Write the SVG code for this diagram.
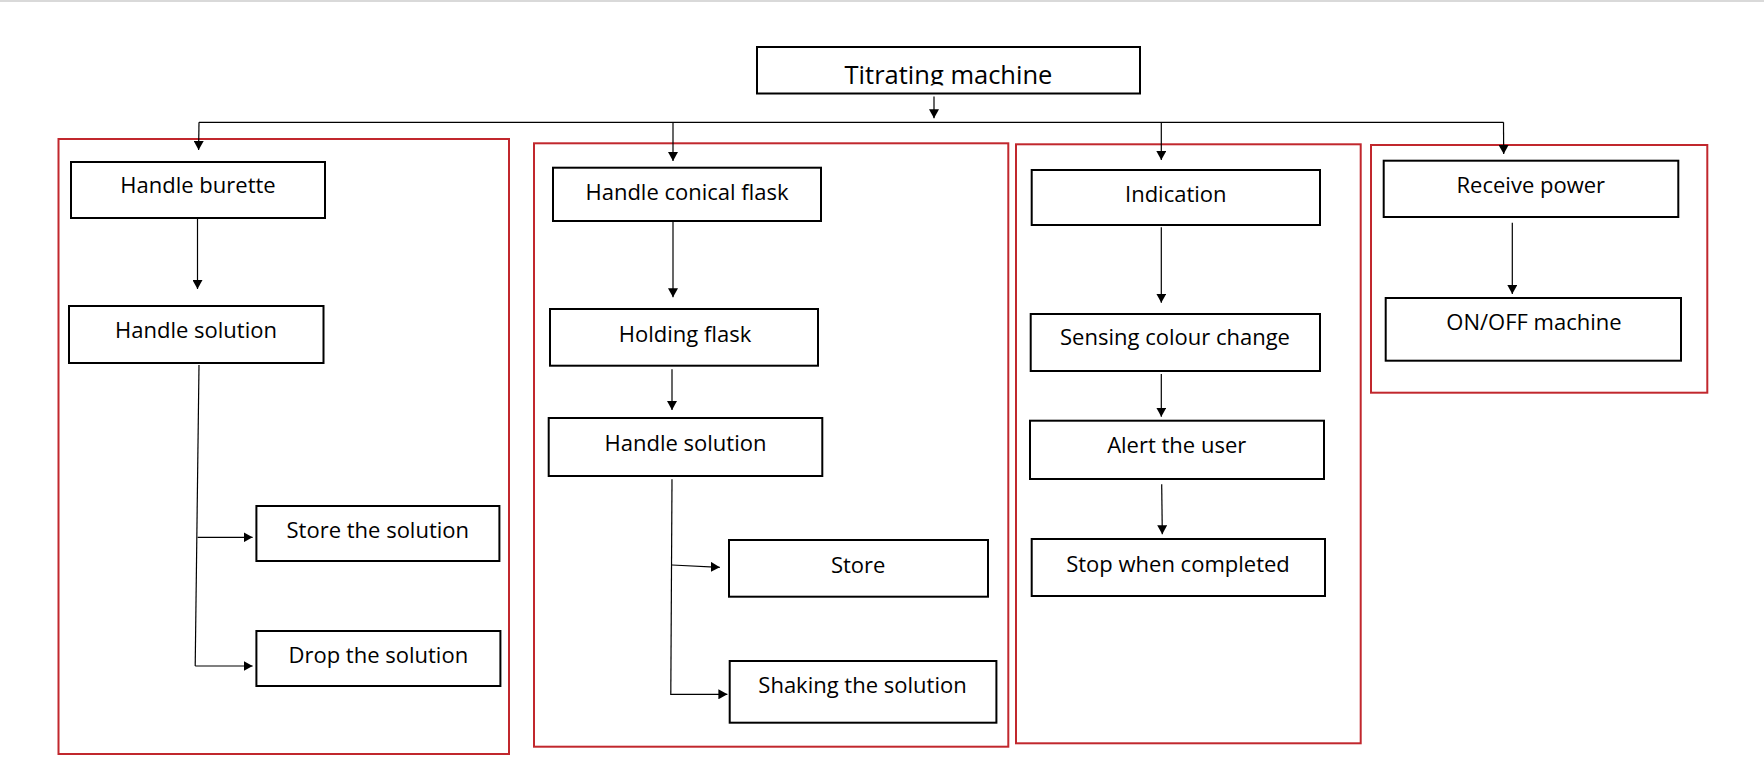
<svg xmlns="http://www.w3.org/2000/svg" width="1764" height="780" viewBox="0 0 1764 780">
  <style>
    .node rect { fill: #ffffff; stroke: #000000; stroke-width: 2; }
    .node text { font-family: "Open Sans", "Noto Sans", "Liberation Sans", sans-serif; font-size: 22px; fill: #000000; text-anchor: middle; }
    .group { fill: none; stroke: #c1272d; stroke-width: 2; }
    .conn { fill: none; stroke: #000000; stroke-width: 1.2; }
    .arrow { marker-end: url(#ah); }
  </style>
  <defs>
    <marker id="ah" viewBox="0 0 9 10" refX="9" refY="5" markerWidth="9" markerHeight="10" markerUnits="userSpaceOnUse" orient="auto">
      <path d="M0,0 L9,5 L0,10 z" fill="#000000"/>
    </marker>
    <clipPath id="titleClip">
      <rect x="757" y="47" width="383" height="38.5"/>
    </clipPath>
  </defs>
  <rect x="0" y="0" width="1764" height="800" fill="#ffffff"/>
  <rect x="0" y="0" width="1764" height="2" fill="#d9d9d9"/>

  <g id="groups">
    <rect class="group" x="58.5" y="139" width="450.5" height="615"/>
    <rect class="group" x="534" y="143.3" width="474.3" height="603.4"/>
    <rect class="group" x="1016" y="144.3" width="344.7" height="599"/>
    <rect class="group" x="1371" y="145" width="336.3" height="247.7"/>
  </g>

  <g id="connectors">
    <line class="conn arrow" x1="934" y1="96.5" x2="934" y2="118.3"/>
    <line class="conn" x1="199" y1="122.3" x2="1503.5" y2="122.3"/>
    <line class="conn arrow" x1="199" y1="122.3" x2="198.6" y2="150"/>
    <line class="conn arrow" x1="673" y1="122.3" x2="673" y2="161"/>
    <line class="conn arrow" x1="1161.3" y1="122.3" x2="1161.3" y2="160"/>
    <line class="conn arrow" x1="1503.5" y1="122.3" x2="1503.7" y2="154"/>

    <line class="conn arrow" x1="197.5" y1="219" x2="197.5" y2="289"/>
    <line class="conn" x1="199" y1="365" x2="195.2" y2="666"/>
    <line class="conn arrow" x1="197.6" y1="537.3" x2="252.6" y2="537.3"/>
    <line class="conn arrow" x1="195.2" y1="666" x2="252.6" y2="666"/>

    <line class="conn arrow" x1="673" y1="222" x2="673" y2="297.3"/>
    <line class="conn arrow" x1="672" y1="369.3" x2="672" y2="410"/>
    <line class="conn" x1="672" y1="479.3" x2="670.8" y2="695"/>
    <line class="conn arrow" x1="672" y1="565" x2="719.8" y2="567.3"/>
    <line class="conn arrow" x1="670.8" y1="694.3" x2="727.4" y2="694.3"/>

    <line class="conn arrow" x1="1161.3" y1="227.3" x2="1161.3" y2="302.7"/>
    <line class="conn arrow" x1="1161.3" y1="374" x2="1161.3" y2="416.7"/>
    <line class="conn arrow" x1="1161.7" y1="484.3" x2="1162.3" y2="534.3"/>

    <line class="conn arrow" x1="1512.3" y1="222.7" x2="1512.3" y2="294"/>
  </g>

  <g id="titrating-machine" class="node">
    <rect x="757" y="47" width="383" height="46.5"/>
    <text x="948.5" y="84" style="font-size:25.5px" clip-path="url(#titleClip)">Titrating machine</text>
  </g>

  <g id="handle-burette" class="node">
    <rect x="71" y="162" width="254" height="56"/>
    <text x="198" y="193.3">Handle burette</text>
  </g>
  <g id="handle-solution-1" class="node">
    <rect x="69" y="306" width="254.5" height="57"/>
    <text x="196" y="337.7">Handle solution</text>
  </g>
  <g id="store-the-solution" class="node">
    <rect x="256.4" y="506" width="243" height="55"/>
    <text x="377.8" y="538">Store the solution</text>
  </g>
  <g id="drop-the-solution" class="node">
    <rect x="256.4" y="631" width="244" height="55"/>
    <text x="378.3" y="662.7">Drop the solution</text>
  </g>

  <g id="handle-conical-flask" class="node">
    <rect x="553" y="167.7" width="268" height="53.3"/>
    <text x="687" y="200">Handle conical flask</text>
  </g>
  <g id="holding-flask" class="node">
    <rect x="550" y="309" width="268" height="56.7"/>
    <text x="685" y="341.7">Holding flask</text>
  </g>
  <g id="handle-solution-2" class="node">
    <rect x="548.7" y="418" width="273.6" height="58"/>
    <text x="685.5" y="451">Handle solution</text>
  </g>
  <g id="store" class="node">
    <rect x="729" y="540" width="259" height="56.7"/>
    <text x="858.2" y="572.7">Store</text>
  </g>
  <g id="shaking-the-solution" class="node">
    <rect x="729.7" y="661" width="266.7" height="61.7"/>
    <text x="862.5" y="693.3">Shaking the solution</text>
  </g>

  <g id="indication" class="node">
    <rect x="1031.7" y="170" width="288.3" height="55"/>
    <text x="1175.8" y="201.7">Indication</text>
  </g>
  <g id="sensing-colour-change" class="node">
    <rect x="1030.7" y="314" width="289.3" height="57"/>
    <text x="1175" y="345">Sensing colour change</text>
  </g>
  <g id="alert-the-user" class="node">
    <rect x="1030" y="420.7" width="294" height="58.3"/>
    <text x="1176.7" y="453.3">Alert the user</text>
  </g>
  <g id="stop-when-completed" class="node">
    <rect x="1031.7" y="539" width="293.3" height="57"/>
    <text x="1178" y="571.7">Stop when completed</text>
  </g>

  <g id="receive-power" class="node">
    <rect x="1383.7" y="160.7" width="294.6" height="56.3"/>
    <text x="1530.8" y="192.7">Receive power</text>
  </g>
  <g id="on-off-machine" class="node">
    <rect x="1385.7" y="298" width="295.3" height="62.7"/>
    <text x="1534" y="330">ON/OFF machine</text>
  </g>
</svg>
